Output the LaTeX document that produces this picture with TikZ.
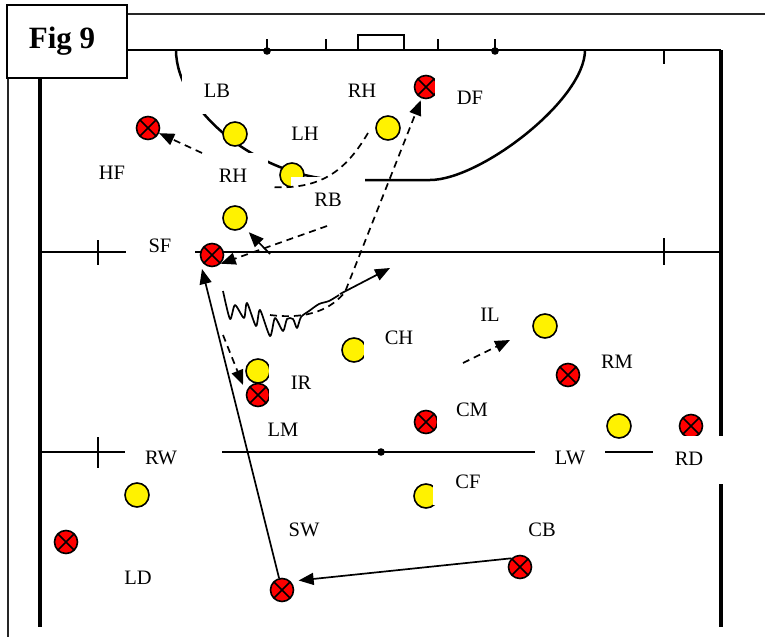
\documentclass[tikz,border=0pt]{standalone}
\usepackage{fontspec}
\setmainfont{Liberation Serif}
\usetikzlibrary{arrows.meta}

\tikzset{
  court/.style={line width=2.5pt},
  side/.style={line width=3.4pt},
  yball/.style={circle, draw, fill=yellow, line width=1.6pt, minimum size=24pt, inner sep=0pt},
  rball/.style={circle, draw, fill=red, line width=1.6pt, minimum size=23pt, inner sep=0pt,
    path picture={\draw[line width=1.6pt]
      (path picture bounding box.north west) -- (path picture bounding box.south east)
      (path picture bounding box.north east) -- (path picture bounding box.south west);}},
  lbl/.style={fill=white, minimum width=70pt, minimum height=46pt, inner sep=0pt,
    font=\fontsize{20.5}{24}\selectfont},
  run/.style={dash pattern=on 7pt off 5pt, line width=1.7pt, -{Triangle[length=15pt,width=12pt]}},
  pass/.style={line width=1.7pt, -{Triangle[length=15pt,width=12pt]}},
}

\begin{document}
\begin{tikzpicture}[x=1pt,y=-1pt]
  \useasboundingbox (0,0) rectangle (765,637);

  % outer frame
  \draw[line width=1.3pt, black!85] (127,14) -- (765,14);
  \draw[line width=1.3pt, black!85] (8,78) -- (8,637);

  % court
  \draw[line width=2.8pt] (40,50) -- (721,50);
  \draw[side] (40,50) -- (40,627);
  \draw[side] (721,50) -- (721,436) (721,484) -- (721,627);
  \draw[court] (40,252) -- (127,252) (195,252) -- (721,252);
  \draw[court] (40,452) -- (125,452) (222,452) -- (536,452) (605,452) -- (653,452);
  \draw[court] (358,50) -- (358,35) -- (404,35) -- (404,50);
  \foreach \x in {267,326,438,495} \draw[court] (\x,39) -- (\x,50);
  \foreach \x in {267,495} \fill (\x,51) circle (3.8pt);
  \fill (381,452) circle (3.8pt);
  \draw[court] (664,50) -- (664,64) (664,238) -- (664,265);
  \draw[court] (98,240) -- (98,265) (98,437) -- (98,468);

  % goal area
  \draw[court] (176,50) .. controls (176,110) and (260,180) .. (345,180) -- (430,180)
    .. controls (480,180) and (585,100) .. (585,50);

  % players
  \node[yball] (pLB) at (235,134) {};
  \node[yball] (pRH) at (388,128) {};
  \node[yball] (pLH) at (292,175) {};
  \node[yball] (pRB) at (235,218) {};
  \node[yball] (pIL) at (545,326) {};
  \node[yball] (pCH) at (354,350) {};
  \node[yball] (pIR) at (258,371) {};
  \node[yball] (pLW) at (619,426) {};
  \node[yball] (pRW) at (137,495) {};
  \node[yball] (pCF) at (426,496) {};

  \node[rball] (hf) at (148,128) {};
  \node[rball] (df) at (426,87) {};
  \node[rball] (sf) at (212,255) {};
  \node[rball] (lm) at (258,395) {};
  \node[rball] (cm) at (426,422) {};
  \node[rball] (rm) at (568,375) {};
  \node[rball] (rd) at (691,426) {};
  \node[rball] (ld) at (66,542) {};
  \node[rball] (cb) at (520,567) {};
  \node[rball] (sw) at (282,590) {};

  % labels
  \node[lbl] (tLB) at (217,91) {LB};
  \node[lbl] (tRH) at (362,91) {RH};
  \node[lbl] (tLH) at (305,134) {LH};
  \node[lbl] (tDF) at (470,98) {DF};
  \node[lbl] (tHF) at (112,173) {HF};
  \node[lbl] (tRHb) at (233,176) {RH};
  \node[lbl, minimum width=74pt] (tRB) at (328,200) {RB};
  \node[lbl, minimum width=68pt] (tSF) at (160,246) {SF};
  \node[lbl] (tIL) at (490,315) {IL};
  \node[lbl] (tCH) at (399,338) {CH};
  \node[lbl] (tRM) at (617,362) {RM};
  \node[lbl, minimum width=64pt] (tIR) at (301,383) {IR};
  \node[lbl] (tCM) at (472,410) {CM};
  \node[lbl, minimum width=56pt, minimum height=38pt] (tLM) at (283,430) {LM};
  \node[lbl] (tRW) at (161,458) {RW};
  \node[lbl] (tLW) at (570,458) {LW};
  \node[lbl, minimum width=72pt] (tRD) at (689,459) {RD};
  \node[lbl] (tCF) at (468,482) {CF};
  \node[lbl, minimum width=56pt] (tSW) at (304,530) {SW};
  \node[lbl] (tCB) at (542,530) {CB};
  \node[lbl] (tLD) at (138,578) {LD};

  % runs and passes
  \coordinate (hfrun) at (202,153);
  \draw[run] (hfrun) -- (hf);
  \coordinate (lhs) at (368,133);
  \coordinate (lhe) at (270,187);
  \draw[run,-] (lhs) .. controls (345,172) and (320,190) .. (lhe);
  \coordinate (sfrun) at (327,226);
  \draw[run] (sfrun) -- (sf.south east);
  \coordinate (rbrun) at (270,254);
  \draw[pass, shorten >=7pt] (rbrun) -- (pRB);
  \coordinate (dfs) at (270,315);
  \coordinate (dfb) at (345,292);
  \draw[run, shorten >=2pt] (dfs) .. controls (310,320) and (332,308) .. (dfb) -- (df);
  \draw[line width=1.7pt, line join=round] plot[smooth, tension=0.45] coordinates {
    (223,291) (230,319) (235,305) (244,318) (247,303) (256,326) (260,310) (270,336)
    (275,318) (283,331) (287,319) (293,319)
    (297,328) (301,317) (309,311) (319,304) (329,301) (339,295)};
  \coordinate (drs) at (340,294);
  \coordinate (drt) at (390,268);
  \draw[pass] (drs) -- (drt);
  \coordinate (irs) at (223,335);
  \coordinate (irt) at (243,385);
  \draw[run] (irs) -- (irt);
  \coordinate (ils) at (463,363);
  \coordinate (ilt) at (510,340);
  \draw[run] (ils) -- (ilt);
  \coordinate (sftip) at (202,269);
  \draw[pass] (sw) -- (sftip);
  \draw[pass, shorten >=8pt] (cb.north west) -- (sw.north east);

  % title box
  \node[draw, fill=white, line width=1.8pt, minimum width=120pt, minimum height=73pt, inner sep=0pt,
    font=\bfseries\fontsize{31}{36}\selectfont] (fig) at (67,41.5) {Fig 9\hspace*{10pt}};

\end{tikzpicture}
\end{document}
